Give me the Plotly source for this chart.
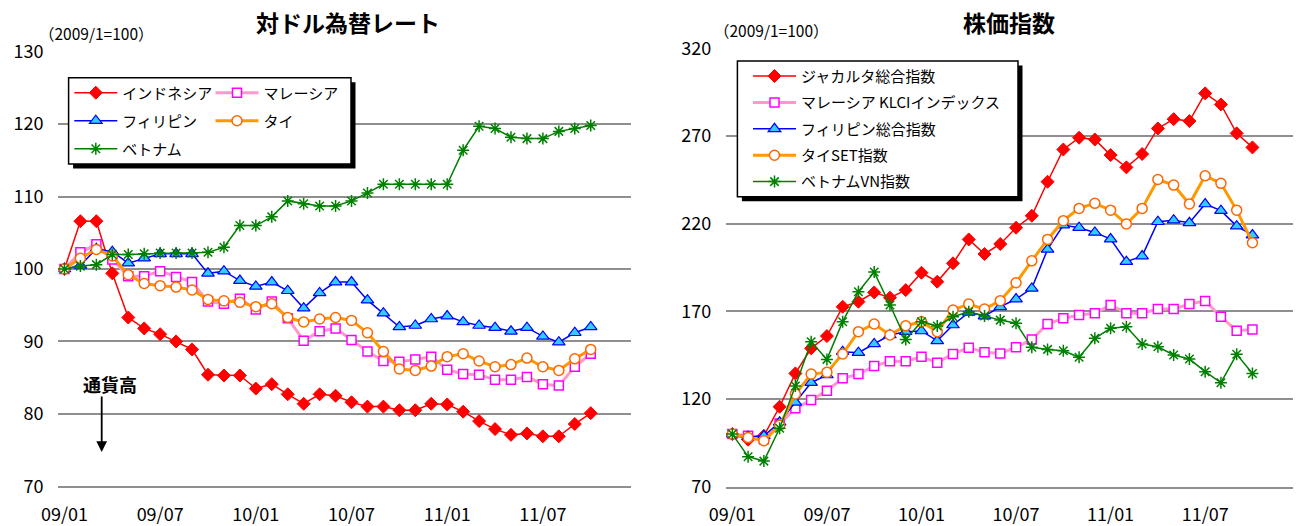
import plotly.graph_objects as go

W, H = 1296, 526

# ---------------- data ----------------
months = []
for y in (9, 10, 11):
    for m in range(1, 13):
        months.append(f"{y:02d}/{m:02d}")
months = months[:34]  # 09/01 .. 11/10

tick_labels = ["09/01", "09/07", "10/01", "10/07", "11/01", "11/07"]

fx_indonesia = [100, 106.6, 106.6, 99.4, 93.3, 91.8, 91.0, 90.0, 88.9, 85.4, 85.3, 85.3,
                83.5, 84.1, 82.7, 81.4, 82.7, 82.5, 81.6, 81.0, 81.0, 80.5, 80.5, 81.4,
                81.3, 80.3, 79.0, 77.9, 77.1, 77.3, 76.9, 76.9, 78.6, 80.1]
fx_malaysia = [100, 102.3, 103.4, 101.3, 99.0, 99.0, 99.7, 98.9, 98.2, 95.5, 95.2, 95.9,
               94.4, 95.5, 93.2, 90.1, 91.4, 91.8, 90.2, 88.6, 87.3, 87.2, 87.5, 87.9,
               86.1, 85.5, 85.4, 84.7, 84.7, 85.1, 84.1, 83.9, 86.5, 88.3]
fx_philippines = [100, 100.5, 102.8, 102.4, 100.8, 101.5, 102.1, 102.1, 102.1, 99.4, 99.7, 98.4,
                  97.6, 98.2, 97.0, 94.6, 96.7, 98.2, 98.2, 95.7, 93.9, 92.0, 92.2, 93.1,
                  93.5, 92.7, 92.2, 91.9, 91.4, 91.9, 90.7, 89.9, 91.2, 92.0]
fx_thailand = [100, 101.5, 102.7, 101.8, 99.2, 98.0, 97.7, 97.5, 97.1, 95.8, 95.6, 95.4,
               94.8, 95.2, 93.3, 92.7, 93.1, 93.3, 92.9, 91.2, 88.6, 86.2, 86.0, 86.6,
               87.9, 88.3, 87.3, 86.5, 86.8, 87.7, 86.5, 86.0, 87.6, 88.9]
fx_vietnam = [100, 100.4, 100.6, 102.0, 102.0, 102.1, 102.2, 102.2, 102.2, 102.3, 103.0, 106.0,
              106.0, 107.2, 109.4, 109.0, 108.7, 108.7, 109.4, 110.5, 111.7, 111.7, 111.7, 111.7,
              111.7, 116.4, 119.7, 119.4, 118.2, 118.0, 118.0, 119.0, 119.4, 119.8]

st_jakarta = [100, 96.8, 99.0, 115.6, 134.6, 148.9, 155.9, 172.6, 175.5, 180.8, 177.8, 182.1,
              192.0, 186.9, 197.4, 211.0, 202.7, 208.4, 217.7, 224.5, 243.9, 262.3, 269.0, 268.0,
              259.1, 252.1, 259.7, 274.3, 279.6, 278.5, 294.3, 288.0, 271.5, 263.5]
st_malaysia = [100, 99.0, 97.0, 106.1, 114.7, 119.4, 124.7, 131.8, 134.2, 138.8, 141.6, 141.6,
               144.1, 140.7, 145.7, 149.3, 146.6, 146.0, 149.5, 154.0, 162.8, 166.0, 167.9, 168.9,
               173.6, 168.9, 168.9, 171.3, 171.3, 174.2, 175.9, 166.9, 158.9, 159.7]
st_philippines = [100, 98.5, 99.0, 106.7, 118.1, 129.3, 133.7, 147.0, 146.4, 151.4, 156.5, 158.4,
                  158.8, 153.2, 162.2, 169.4, 167.3, 172.6, 177.0, 183.1, 205.3, 219.2, 217.7, 215.0,
                  211.2, 198.3, 201.5, 221.1, 222.0, 220.5, 231.2, 227.4, 218.6, 213.5]
st_thailand = [100, 98.0, 96.2, 105.0, 122.8, 134.2, 135.2, 145.7, 158.4, 162.8, 156.5, 161.8,
               164.1, 158.4, 170.7, 174.2, 171.3, 176.1, 186.3, 198.8, 211.0, 221.7, 228.7, 231.6,
               227.7, 219.8, 228.7, 245.2, 242.0, 231.2, 247.3, 243.0, 227.7, 209.1]
st_vietnam = [100, 87.1, 84.6, 103.3, 127.4, 152.7, 142.6, 164.1, 181.2, 192.4, 173.6, 154.0,
              164.1, 161.6, 166.9, 169.8, 167.3, 165.0, 163.2, 149.5, 148.3, 147.5, 143.8, 154.6,
              160.3, 161.2, 151.4, 149.8, 145.1, 142.8, 135.6, 129.3, 145.5, 134.6]

FONT = "Noto Sans CJK JP"

# ---------------- helpers ----------------
def px(x):
    return x / W

def py(y):
    return 1 - y / H

fig = go.Figure()

def add(x, y, name, xa, ya, legend, color, lw, symbol, msize, mfill, mline, mlw, group):
    fig.add_trace(go.Scatter(
        x=x, y=y, name=name, xaxis=xa, yaxis=ya, legend=legend,
        legendgroup=group, mode="lines+markers",
        line=dict(color=color, width=lw),
        marker=dict(symbol=symbol, size=msize, color=mfill,
                    line=dict(color=mline, width=mlw)),
        hoverinfo="skip",
    ))

# left panel
add(months, fx_indonesia, "インドネシア", "x", "y", "legend", "#FF0000", 1.5, "diamond", 10, "#FF0000", "#FF0000", 1, "a1")
add(months, fx_malaysia, "マレーシア", "x", "y", "legend3", "#FF99CC", 3, "square", 9, "#FFFFFF", "#FF00FF", 1.5, "a2")
add(months, fx_philippines, "フィリピン", "x", "y", "legend", "#0000FF", 1.5, "triangle-up", 11, "#33CCFF", "#0000FF", 1.2, "a3")
add(months, fx_thailand, "タイ", "x", "y", "legend3", "#FF9900", 3, "circle", 10, "#FFFFFF", "#FF6600", 1.5, "a4")
add(months, fx_vietnam, "ベトナム", "x", "y", "legend", "#008000", 1.5, "asterisk", 10, "#008000", "#008000", 1.5, "a5")

# right panel
add(months, st_jakarta, "ジャカルタ総合指数", "x2", "y2", "legend2", "#FF0000", 1.5, "diamond", 10, "#FF0000", "#FF0000", 1, "b1")
add(months, st_malaysia, "マレーシア KLCIインデックス", "x2", "y2", "legend2", "#FF99CC", 3, "square", 9, "#FFFFFF", "#FF00FF", 1.5, "b2")
add(months, st_philippines, "フィリピン総合指数", "x2", "y2", "legend2", "#0000FF", 1.5, "triangle-up", 11, "#33CCFF", "#0000FF", 1.2, "b3")
add(months, st_thailand, "タイSET指数", "x2", "y2", "legend2", "#FF9900", 3, "circle", 10, "#FFFFFF", "#FF6600", 1.5, "b4")
add(months, st_vietnam, "ベトナムVN指数", "x2", "y2", "legend2", "#008000", 1.5, "asterisk", 10, "#008000", "#008000", 1.5, "b5")

GRID = "#8f8f8f"
xcommon = dict(type="category", tickmode="array", tickvals=tick_labels, ticktext=tick_labels,
               showgrid=False, showline=True, linecolor=GRID, linewidth=1.5,
               ticks="", ticklabelstandoff=11, zeroline=False,
               tickfont=dict(family=FONT, size=18, color="#000"), automargin=False, fixedrange=True)
ycommon = dict(showgrid=True, gridcolor=GRID, gridwidth=1.5, showline=False, zeroline=False,
               ticks="", ticklabelstandoff=14,
               tickfont=dict(family=FONT, size=18, color="#000"), automargin=False, fixedrange=True)

legend_common = dict(orientation="v", bgcolor="rgba(0,0,0,0)", borderwidth=0,
                     font=dict(family=FONT, size=15, color="#000"), itemwidth=43,
                     traceorder="grouped", xanchor="left", yanchor="top",
                     itemclick=False, itemdoubleclick=False)

fig.update_layout(
    width=W, height=H,
    margin=dict(l=0, r=0, t=0, b=0),
    paper_bgcolor="white", plot_bgcolor="white",
    showlegend=True,
    xaxis=dict(domain=[px(58.4), px(630.6)], range=[-0.38, 35.5], anchor="y", **xcommon),
    yaxis=dict(domain=[py(486.3), py(51.7)], range=[70, 130], tickvals=[70, 80, 90, 100, 110, 120, 130],
               anchor="x", **ycommon),
    xaxis2=dict(domain=[px(726.2), px(1292.8)], range=[-0.39, 35.56], anchor="y2", **xcommon),
    yaxis2=dict(domain=[py(486.7), py(48.3)], range=[70, 320], tickvals=[70, 120, 170, 220, 270, 320],
                anchor="x2", **ycommon),
    legend=dict(x=px(69.3), y=py(76.45), tracegroupgap=5.5, **legend_common),
    legend3=dict(x=px(210.5), y=py(76.45), tracegroupgap=5.5, **legend_common),
    legend2=dict(x=px(748), y=py(59.75), tracegroupgap=3.9, **legend_common),
)

# legend boxes with drop shadow
def box(x0, y0, x1, y1, off):
    fig.add_shape(type="rect", xref="paper", yref="paper", layer="above",
                  x0=px(x0 + off), x1=px(x1 + off), y0=py(y1 + off), y1=py(y0 + off),
                  fillcolor="#000", line=dict(width=0))
    fig.add_shape(type="rect", xref="paper", yref="paper", layer="above",
                  x0=px(x0), x1=px(x1), y0=py(y1), y1=py(y0),
                  fillcolor="#FFF", line=dict(color="#000", width=1.5))

box(68.6, 77.7, 351, 164, 4.5)
box(737.4, 61, 1018, 196.7, 4.5)

def text(x, y, s, size, bold=False):
    fig.add_annotation(xref="paper", yref="paper", x=px(x), y=py(y), text=(f"<b>{s}</b>" if bold else s),
                       showarrow=False, xanchor="center", yanchor="middle",
                       font=dict(family=FONT, size=size, color="#000"))

text(348, 22, "対ドル為替レート", 23, bold=True)
text(1008.5, 22, "株価指数", 23, bold=True)
text(96.7, 33, "（2009/1=100）", 15.5)
text(771.5, 30, "（2009/1=100）", 15.5)
text(110, 384, "通貨高", 18, bold=True)

fig.add_annotation(xref="paper", yref="paper", x=px(101.7), y=py(452), text="",
                   showarrow=True, ax=0, ay=-57, arrowhead=2, arrowsize=1.2, arrowwidth=1.8,
                   arrowcolor="#000", standoff=0)

fig.write_html("out.html")
